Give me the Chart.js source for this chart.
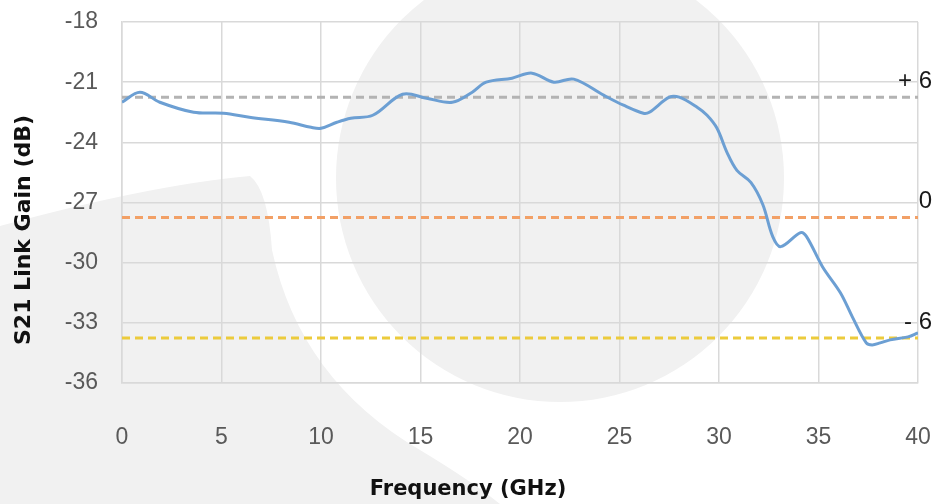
<!DOCTYPE html>
<html>
<head>
<meta charset="utf-8">
<script src="https://cdn.jsdelivr.net/npm/chart.js@4/dist/chart.umd.min.js"></script>
<style>
  html, body { margin: 0; padding: 0; background: #fff; }
  #wrap { width: 938px; height: 504px; position: relative; }
</style>
</head>
<body>
<div id="wrap"><canvas id="chart"></canvas></div>
<script>
// ---- data ----
const freqGHz = [0, 0.9, 1.9, 3.6, 5.1, 6.4, 8.4, 9.5, 10, 10.8, 11.5, 12.6, 14.1, 15.3, 16.6, 17.6, 18.3, 19.6, 20.6,
  21.7, 22.7, 24.2, 25.2, 26.2, 26.5, 27.5, 28.0, 28.9, 29.4, 29.9, 30.4, 30.9, 31.6, 32.2, 32.7, 33.1, 34.1, 34.4,
  35.2, 36.1, 36.7, 37.4, 37.7, 38.1, 38.6, 39.5, 40];
const s21Gain = [-22.0, -21.5, -22.0, -22.5, -22.55, -22.75, -23.0, -23.25, -23.3, -23.0, -22.8, -22.65, -21.6, -21.8,
  -22.0, -21.5, -21.0, -20.8, -20.55, -21.0, -20.85, -21.65, -22.15, -22.55, -22.5, -21.75, -21.75, -22.25, -22.65,
  -23.3, -24.5, -25.4, -26.0, -27.1, -28.7, -29.2, -28.5, -28.7, -30.2, -31.5, -32.7, -34.0, -34.1, -34.0, -33.85,
  -33.7, -33.5];

const refLevels = [-21.75, -27.75, -33.75];
const refLabels = ['+ 6', '0', '- 6'];
const refColors = ['#b3b3b3', '#f2a066', '#eccb3c'];

const xTicks = [0, 5, 10, 15, 20, 25, 30, 35, 40];
const yTicks = [-36, -33, -30, -27, -24, -21, -18];

const xTitle = 'Frequency (GHz)';
const yTitle = 'S21 Link Gain (dB)';

// ---- plugins ----
const watermark = {
  id: 'watermark',
  beforeDraw(chart) {
    const ctx = chart.ctx;
    ctx.save();
    ctx.fillStyle = '#f1f1f1';
    ctx.beginPath();
    ctx.arc(560, 178, 224, 0, Math.PI * 2);
    ctx.fill();
    ctx.beginPath();
    ctx.moveTo(0, 226);
    ctx.quadraticCurveTo(150, 185, 250, 176);
    ctx.quadraticCurveTo(268, 190, 272, 250);
    ctx.quadraticCurveTo(300, 380, 420, 450);
    ctx.quadraticCurveTo(470, 480, 500, 504);
    ctx.lineTo(0, 504);
    ctx.closePath();
    ctx.fill();
    ctx.restore();
  }
};

// level labels at the right end + axis titles (titles centred like the original, not on the plot area)
const extraText = {
  id: 'extraText',
  afterDatasetsDraw(chart) {
    const ctx = chart.ctx, y = chart.scales.y, right = chart.chartArea.right;
    ctx.save();
    ctx.fillStyle = '#1a1a1a';
    ctx.font = '24px "Liberation Sans", Arial, sans-serif';
    ctx.textAlign = 'right';
    ctx.textBaseline = 'middle';
    refLevels.forEach((lv, i) => {
      ctx.fillText(refLabels[i], right + 14, y.getPixelForValue(lv) - 16);
    });

    ctx.fillStyle = '#111';
    ctx.font = 'bold 21px "DejaVu Sans", sans-serif';
    ctx.textAlign = 'center';
    ctx.fillText(xTitle, 468, 490);

    ctx.translate(24, 230);
    ctx.rotate(-Math.PI / 2);
    ctx.font = 'bold 22px "DejaVu Sans", sans-serif';
    ctx.fillText(yTitle, 0, 0);
    ctx.restore();
  }
};

const noPad = s => { s.paddingTop = 0; s.paddingRight = 0; s.paddingBottom = 0; s.paddingLeft = 0; };

const refSets = refLevels.map((lv, i) => ({
  data: [{ x: 0, y: lv }, { x: 40, y: lv }],
  borderColor: refColors[i],
  borderWidth: 3,
  borderDash: [8, 5],
  pointRadius: 0,
  showLine: true,
  order: 2
}));

new Chart(document.getElementById('chart'), {
  type: 'scatter',
  data: {
    datasets: [
      ...refSets,
      {
        data: freqGHz.map((f, i) => ({ x: f, y: s21Gain[i] })),
        borderColor: '#6c9fd3',
        borderWidth: 3,
        pointRadius: 0,
        showLine: true,
        tension: 0.35,
        order: 1
      }
    ]
  },
  plugins: [watermark, extraText],
  options: {
    responsive: true,
    maintainAspectRatio: false,
    animation: false,
    layout: { padding: { top: 22, right: 20, left: 0, bottom: 0 } },
    plugins: { legend: { display: false }, tooltip: { enabled: false } },
    scales: {
      x: {
        type: 'linear', min: 0, max: 40,
        afterBuildTicks: s => { s.ticks = xTicks.map(v => ({ value: v })); },
        afterFit: s => { s.height = 121; noPad(s); },
        grid: { color: '#d9d9d9', lineWidth: 1.5, drawTicks: false },
        border: { color: '#d9d9d9', width: 1.5 },
        ticks: { color: '#595959', padding: 41, font: { family: '"Liberation Sans", Arial, sans-serif', size: 23 } }
      },
      y: {
        type: 'linear', min: -36, max: -18,
        afterBuildTicks: s => { s.ticks = yTicks.map(v => ({ value: v })); },
        afterFit: s => { s.width = 122; noPad(s); },
        grid: { color: '#d9d9d9', lineWidth: 1.5, drawTicks: false },
        border: { color: '#d9d9d9', width: 1.5 },
        ticks: { color: '#595959', padding: 24, font: { family: '"Liberation Sans", Arial, sans-serif', size: 23 } }
      }
    }
  }
});
</script>
</body>
</html>
